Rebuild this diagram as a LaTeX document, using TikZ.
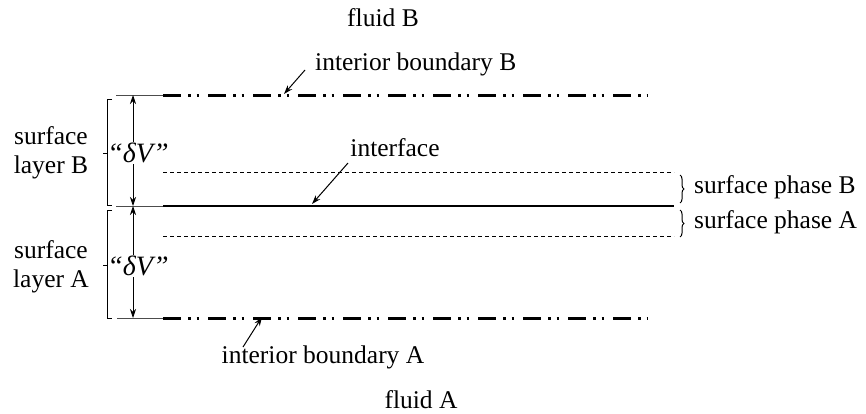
\documentclass[tikz,border=0pt]{standalone}
\usepackage{fontspec}
\setmainfont{Liberation Serif}
\usetikzlibrary{arrows.meta,decorations.pathreplacing}
\begin{document}
\begin{tikzpicture}[x=1pt,y=-1pt,
  txt/.style={font=\fontsize{25.5}{29}\selectfont, inner sep=0pt},
  dv/.style={font=\fontsize{28}{32}\selectfont\itshape, inner sep=1pt, fill=white},
  boundary/.style={line width=3pt, dash pattern=on 18pt off 7pt on 2.5pt off 6pt on 2.5pt off 9pt},
  iface/.style={line width=2.9pt},
  phaseline/.style={line width=1pt, dash pattern=on 4pt off 3pt},
  ext/.style={line width=0.8pt, black!70},
  pointer/.style={line width=1pt, -{Stealth[length=9pt,width=6pt]}},
  dimarrow/.style={line width=0.8pt, -{Stealth[length=9pt,width=6pt]}},
  layerbracket/.style={line width=1pt},
  phasebrace/.style={line width=1pt, decorate, decoration={brace, amplitude=4pt}}]
\useasboundingbox (0,0) rectangle (866,413);

% horizontal levels
\coordinate (bL) at (163,95);  \coordinate (bR) at (648,95);
\coordinate (iL) at (163,206); \coordinate (iR) at (674,206);
\coordinate (aL) at (163,318); \coordinate (aR) at (648,318);
\coordinate (pbL) at (163,172); \coordinate (pbR) at (674,172);
\coordinate (paL) at (163,236); \coordinate (paR) at (674,236);

% thin extension lines to the dimension arrows
\coordinate (ebL) at (116,95);
\coordinate (eiL) at (116,206);
\coordinate (eaL) at (117,318);
\draw[ext] (ebL) -- (bL);
\draw[ext] (eiL) -- (iL);
\draw[ext] (eaL) -- (aL);

% interior boundaries, interface and surface phases
\draw[boundary] (bL) -- (bR);
\draw[boundary] (aL) -- (aR);
\draw[iface] (iL) -- (iR);
\draw[phaseline] (pbL) -- (pbR);
\draw[phaseline] (paL) -- (paR);

% dimension arrows
\coordinate (dTop) at (133,95);
\coordinate (dMid) at (133,206);
\coordinate (dBot) at (133,318);
\node[dv] (dvB) at (138,153) {“δV”};
\node[dv] (dvA) at (138,266) {“δV”};
\draw[dimarrow] (dvB.north -| dTop) -- (dTop);
\draw[dimarrow] (dvB.south -| dTop) -- (dMid);
\draw[dimarrow] (dvA.north -| dTop) -- (dMid);
\draw[dimarrow] (dvA.south -| dTop) -- (dBot);

% left brackets for the surface layers
\draw[layerbracket] (112,99) -- (107,99) -- (107,205) -- (112,205);
\draw[layerbracket] (107,153) -- (103,153);
\draw[layerbracket] (112,210) -- (107,210) -- (107,318) -- (112,318);
\draw[layerbracket] (107,265) -- (103,265);
\node[txt, align=center] (layB) at (51,153) {surface\\layer B};
\node[txt, align=center] (layA) at (51,267) {surface\\layer A};

% right braces for the surface phases
\draw[phasebrace] (680,175) -- (680,203);
\draw[phasebrace] (680,210) -- (680,237);
\node[txt, anchor=west] (phB) at (694,187) {surface phase B};
\node[txt, anchor=west] (phA) at (694,222) {surface phase A};

% fluids
\node[txt] (flB) at (383,18) {fluid B};
\node[txt] (flA) at (421,400) {fluid A};

% labelled pointers
\node[txt, anchor=west] (ibB) at (315,64) {interior boundary B};
\coordinate (ibBs) at (305,70);
\coordinate (ibBt) at (284,94);
\draw[pointer] (ibBs) -- (ibBt);

\node[txt] (ifc) at (395,148) {interface};
\coordinate (ifcs) at (348,163);
\coordinate (ifct) at (312,204);
\draw[pointer] (ifcs) -- (ifct);

\node[txt] (ibA) at (323,357) {interior boundary A};
\coordinate (ibAs) at (243,347);
\coordinate (ibAt) at (262,317);
\draw[pointer] (ibAs) -- (ibAt);
\end{tikzpicture}
\end{document}
